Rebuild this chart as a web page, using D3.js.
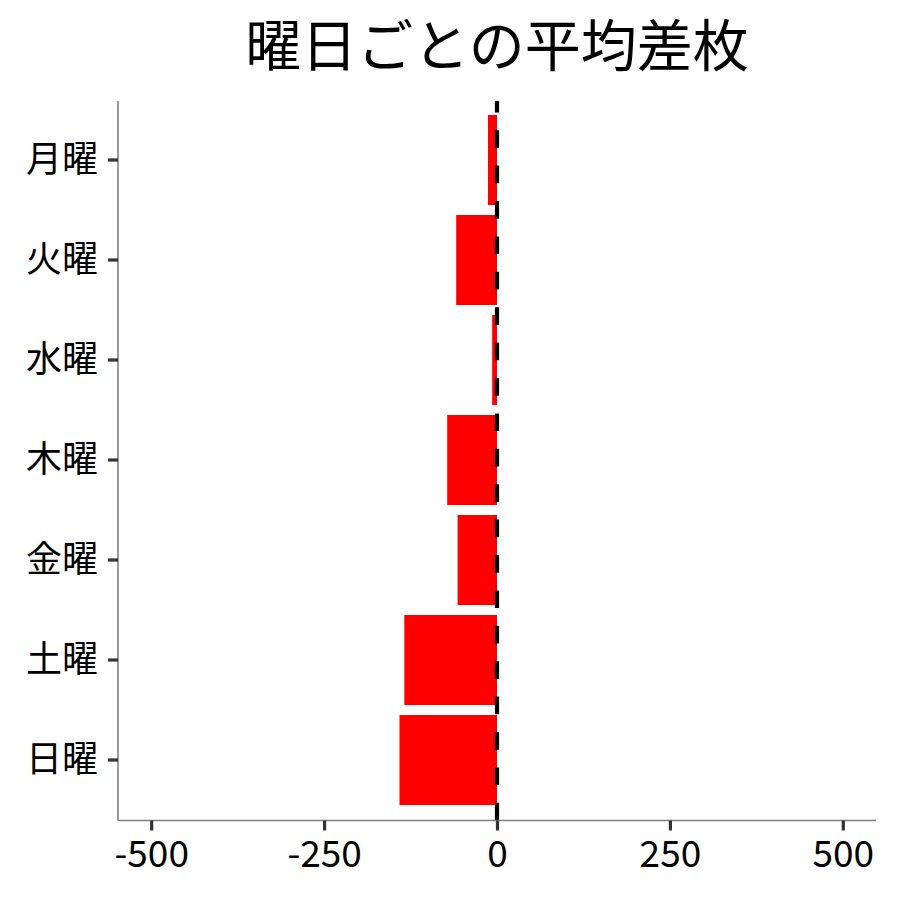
<!DOCTYPE html>
<html><head><meta charset="utf-8">
<script src="https://cdn.jsdelivr.net/npm/d3@7"></script>
<style>
html,body{margin:0;padding:0;background:#fff;}
text{font-family:"Noto Sans CJK JP","Noto Sans",sans-serif;}
</style></head>
<body>
<svg id="chart" width="900" height="900"></svg>
<script>
const title = "曜日ごとの平均差枚";
const days = ["月曜","火曜","水曜","木曜","金曜","土曜","日曜"];
const avgDiff = [-13, -59, -7, -72, -57, -134, -141];
const xTicks = [-500, -250, 0, 250, 500];
const xDomain = [-548, 548];

const svg = d3.select("#chart");
const pLeft = 118, pRight = 876, pTop = 101, pBottom = 820.5;

const x = d3.scaleLinear().domain(xDomain).range([pLeft, pRight]);
const y = d3.scaleBand().domain(days).range([110, 810]).paddingInner(0.1).paddingOuter(0.05);

svg.append("g").selectAll("rect").data(days).join("rect")
  .attr("x", (d,i) => x(Math.min(0, avgDiff[i])))
  .attr("width", (d,i) => Math.abs(x(avgDiff[i]) - x(0)))
  .attr("y", d => y(d))
  .attr("height", y.bandwidth())
  .attr("fill", "#FF0000");

svg.append("line")
  .attr("x1", x(0)).attr("x2", x(0))
  .attr("y1", pBottom).attr("y2", pTop)
  .attr("stroke", "#000").attr("stroke-width", 4.2)
  .attr("stroke-dasharray", "17.7,17.7");

// x axis
const xAxis = svg.append("g").attr("transform", `translate(0,${pBottom})`)
  .call(d3.axisBottom(x).tickValues(xTicks).tickSize(10).tickPadding(10).tickFormat(d3.format("d")));
xAxis.select(".domain").attr("stroke", "#7f7f7f").attr("stroke-width", 1.6).attr("d", `M${pLeft},0H${pRight}`);
xAxis.selectAll(".tick line").attr("stroke", "#333").attr("stroke-width", 3.2);
xAxis.selectAll(".tick text").attr("fill", "#000").attr("font-size", 37)
  .text(d => d < 0 ? "-" + Math.abs(d) : d);

// y axis
const yAxis = svg.append("g").attr("transform", `translate(${pLeft},0)`)
  .call(d3.axisLeft(y).tickSize(10).tickPadding(10));
yAxis.select(".domain").attr("stroke", "#7f7f7f").attr("stroke-width", 1.6).attr("d", `M0,${pTop}V${pBottom}`);
yAxis.selectAll(".tick line").attr("stroke", "#333").attr("stroke-width", 3.2);
yAxis.selectAll(".tick text").attr("fill", "#000").attr("font-size", 36);

svg.append("text").attr("x", (pLeft + pRight) / 2).attr("y", 66)
  .attr("text-anchor", "middle").attr("font-size", 56).attr("fill", "#000")
  .text(title);
</script>
</body></html>
